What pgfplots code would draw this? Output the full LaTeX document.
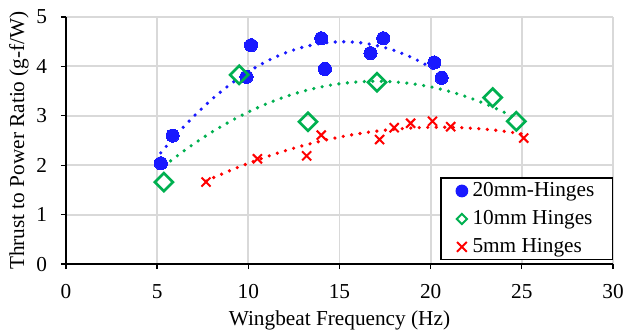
\documentclass[border=0pt]{standalone}
\usepackage{fontspec}
\setmainfont{Liberation Serif}
\usepackage{pgfplots}
\pgfplotsset{compat=1.18}
\definecolor{sblue}{RGB}{25,25,255}
\definecolor{sgreen}{RGB}{0,176,80}
\definecolor{sred}{RGB}{255,0,0}
\definecolor{gridgray}{RGB}{217,217,217}
\begin{document}
\begin{tikzpicture}
\begin{axis}[
  scale only axis, width=257.1pt, height=116.1pt,
  xmin=0, xmax=30, ymin=0, ymax=5,
  xtick={0,5,10,15,20,25,30}, ytick={0,1,2,3,4,5},
  /pgf/number format/assume math mode=true,
  axis lines=left, axis line style={black, line width=0.8pt, -},
  grid=major, grid style={gridgray, line width=0.9pt},
  tick align=outside, major tick length=2.4pt,
  tick style={black, line width=0.6pt},
  tick label style={font=\fontsize{10}{12}\selectfont},
  xticklabel style={yshift=-3.8pt},
  yticklabel style={anchor=east, xshift=-3pt},
  xlabel={Wingbeat Frequency (Hz)},
  ylabel={Thrust to Power Ratio (g-f/W)},
  every axis x label/.style={at={(axis description cs:0.5,-0.2265)}, anchor=center},
  every axis y label/.style={at={(axis description cs:-0.086,0.5)}, anchor=center, rotate=90},
  legend style={at={(rel axis cs:1,0)}, anchor=south east, yshift=1.7pt,
    draw=black, line width=0.6pt, fill=white, inner xsep=6.5pt, inner ysep=0pt,
    nodes={inner sep=2pt}, cells={anchor=west}, row sep=1pt},
  legend cell align=left,
]
\coordinate (SW) at (rel axis cs:0,0);
\coordinate (NE) at (rel axis cs:1,1);
\addplot[only marks, mark=*, mark size=3.1pt, color=sblue, mark options={fill=sblue, draw=sblue, line width=0pt},
  legend image code/.code={\path (-3pt,0) (1.2pt,0); \fill[sblue] (0,0) circle (2.7pt);}]
  coordinates {(5.2,2.04) (5.85,2.6) (9.9,3.79) (10.15,4.43) (14.0,4.57) (14.2,3.95) (16.7,4.27) (17.4,4.57) (20.2,4.08) (20.6,3.77)};
\addlegendentry{20mm-Hinges}
\addplot[only marks, mark=square, mark size=3pt, color=sgreen, mark options={rotate=45, draw=sgreen, fill=none, line width=1.25pt},
  legend image code/.code={\path (-3pt,0) (1.2pt,0); \draw[sgreen, line width=0.9pt] (0,2.4pt) -- (2.4pt,0) -- (0,-2.4pt) -- (-2.4pt,0) -- cycle;}]
  coordinates {(5.37,1.66) (9.5,3.83) (13.27,2.88) (17.06,3.68) (23.4,3.37) (24.7,2.89)};
\addlegendentry{10mm Hinges}
\addplot[only marks, mark=x, mark size=3pt, color=sred, mark options={draw=sred, line width=0.95pt},
  legend image code/.code={\path (-3pt,0) (1.2pt,0); \draw[sred, line width=0.9pt] (-2.3pt,-2.3pt) -- (2.3pt,2.3pt) (-2.3pt,2.3pt) -- (2.3pt,-2.3pt);}]
  coordinates {(7.68,1.66) (10.5,2.13) (13.2,2.19) (14.0,2.61) (17.2,2.52) (18.0,2.76) (18.9,2.85) (20.1,2.89) (21.1,2.78) (25.1,2.55)};
\addlegendentry{5mm Hinges}
% trendlines
\addplot[forget plot, no marks, sblue, line width=1.7pt, line cap=round, dash pattern=on 0pt off 4pt, smooth]
  coordinates {(5.2,2.25) (6,2.596) (7,2.987) (8,3.334) (9,3.635) (10,3.892) (11,4.103) (12,4.270) (13,4.391) (14,4.468) (15,4.499) (16,4.486) (17,4.427) (18,4.324) (19,4.175) (20,3.982) (20.6,3.844)};
\addplot[forget plot, no marks, sgreen, line width=1.7pt, line cap=round, dash pattern=on 0pt off 4pt, smooth]
  coordinates {(5.37,1.982) (6,2.163) (7,2.43) (8,2.671) (9,2.887) (10,3.078) (11,3.243) (12,3.383) (13,3.497) (14,3.586) (15,3.649) (16,3.687) (17,3.70) (18,3.687) (19,3.649) (20,3.586) (21,3.497) (22,3.383) (23,3.243) (24,3.078) (24.7,2.947)};
\addplot[forget plot, no marks, sred, line width=1.7pt, line cap=round, dash pattern=on 0pt off 4pt, smooth]
  coordinates {(7.68,1.68) (8,1.734) (9,1.893) (10,2.039) (11,2.172) (12,2.291) (13,2.397) (14,2.490) (15,2.569) (16,2.636) (17,2.689) (18,2.729) (19,2.755) (20,2.768) (21,2.768) (22,2.755) (23,2.729) (24,2.689) (25,2.636) (25.1,2.630)};
\end{axis}
\pgfresetboundingbox
\path[use as bounding box] ([shift={(-31.0pt,-31.5pt)}]SW) rectangle ([shift={(5.64pt,8.0pt)}]NE);
\end{tikzpicture}
\end{document}
